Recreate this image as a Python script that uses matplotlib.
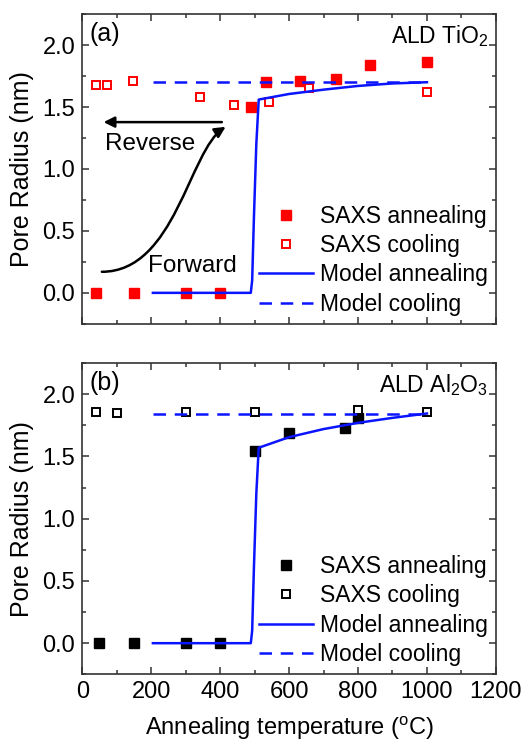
import numpy as np
import matplotlib
matplotlib.use("Agg")
import matplotlib.pyplot as plt
from matplotlib.path import Path
from matplotlib.patches import FancyArrowPatch
from matplotlib.ticker import MultipleLocator

plt.rcParams['font.family'] = ['Liberation Sans', 'DejaVu Sans']
plt.rcParams['mathtext.fontset'] = 'custom'
plt.rcParams['mathtext.rm'] = 'Liberation Sans'
plt.rcParams['mathtext.it'] = 'Liberation Sans:italic'

# (a) ALD TiO2
tio2_anneal_T = [40, 150, 300, 400, 490, 532, 632, 736, 835, 1000]
tio2_anneal_r = [0.0, 0.0, 0.0, 0.0, 1.50, 1.70, 1.71, 1.73, 1.84, 1.86]
tio2_cool_T = [40, 73, 148, 342, 441, 543, 659, 1000]
tio2_cool_r = [1.68, 1.68, 1.71, 1.58, 1.52, 1.54, 1.655, 1.62]
tio2_model_T = [205, 300, 400, 489, 493, 498, 505, 512, 600, 700, 800, 900, 1000]
tio2_model_r = [0, 0, 0, 0, 0.1, 0.6, 1.2, 1.56, 1.605, 1.64, 1.67, 1.69, 1.70]
tio2_cool_model_T = [205, 1000]
tio2_cool_model_r = [1.70, 1.70]

# (b) ALD Al2O3
al_anneal_T = [50, 150, 300, 400, 500, 600, 763, 801]
al_anneal_r = [0.0, 0.0, 0.0, 0.0, 1.54, 1.685, 1.73, 1.805]
al_cool_T = [40, 100, 300, 500, 800, 1000]
al_cool_r = [1.86, 1.85, 1.86, 1.86, 1.87, 1.86]
al_model_T = [205, 300, 400, 489, 493, 498, 505, 512, 600, 700, 800, 900, 1000]
al_model_r = [0, 0, 0, 0, 0.1, 0.6, 1.2, 1.57, 1.655, 1.72, 1.77, 1.81, 1.845]
al_cool_model_T = [205, 1000]
al_cool_model_r = [1.84, 1.84]

fig = plt.figure(figsize=(5.27, 7.41), dpi=100)
ax1 = fig.add_axes([0.156, 0.563, 0.785, 0.418])
ax2 = fig.add_axes([0.156, 0.090, 0.785, 0.420])

spine_c = '#333333'
blue = '#0a14ff'


def draw_panel(ax, aT, ar, cT, cr, mT, mr, cmT, cmr, col, tag, title):
    ax.plot(aT, ar, 's', color=col, ms=6.5, ls='none', label='SAXS annealing')
    ax.plot(cT, cr, 's', mfc='white', mec=col, mew=1.4, ms=6, ls='none',
            label='SAXS cooling')
    ax.plot(mT, mr, '-', color=blue, lw=1.8, label='Model annealing')
    ax.plot(cmT, cmr, '--', color=blue, lw=1.8, dashes=(5, 3.5),
            label='Model cooling')
    ax.set_xlim(0, 1200)
    ax.set_ylim(-0.25, 2.25)
    ax.xaxis.set_major_locator(MultipleLocator(200))
    ax.xaxis.set_minor_locator(MultipleLocator(100))
    ax.yaxis.set_major_locator(MultipleLocator(0.5))
    ax.yaxis.set_minor_locator(MultipleLocator(0.25))
    ax.yaxis.set_major_formatter(matplotlib.ticker.FormatStrFormatter('%.1f'))
    ax.tick_params(which='both', direction='in', top=True, right=True,
                   color=spine_c, labelsize=17, width=1.1)
    ax.tick_params(which='major', length=5, pad=5)
    ax.tick_params(which='minor', length=3)
    for s in ax.spines.values():
        s.set_color(spine_c)
        s.set_linewidth(1.2)
    ax.set_ylabel('Pore Radius (nm)', fontsize=18, labelpad=6)
    ax.text(0.018, 0.935, tag, transform=ax.transAxes, fontsize=18,
            ha='left', va='center')
    ax.text(0.982, 0.93, title, transform=ax.transAxes, fontsize=16.5,
            ha='right', va='center')
    ax.legend(loc='lower right', bbox_to_anchor=(1.0, 0.0), frameon=False,
              fontsize=16.5, handlelength=2.35, handletextpad=0.3,
              labelspacing=0.28, borderaxespad=0.15, borderpad=0.2)


draw_panel(ax1, tio2_anneal_T, tio2_anneal_r, tio2_cool_T, tio2_cool_r,
           tio2_model_T, tio2_model_r, tio2_cool_model_T, tio2_cool_model_r,
           'red', '(a)', 'ALD TiO$_2$')
draw_panel(ax2, al_anneal_T, al_anneal_r, al_cool_T, al_cool_r,
           al_model_T, al_model_r, al_cool_model_T, al_cool_model_r,
           'black', '(b)', 'ALD Al$_2$O$_3$')

ax1.tick_params(labelbottom=False)
ax2.set_xlabel('Annealing temperature ($^{\\mathrm{o}}$C)', fontsize=17,
               labelpad=8)

# arrows in panel (a)
ax1.annotate('', xy=(62, 1.378), xytext=(405, 1.378),
             arrowprops=dict(arrowstyle='-|>', color='black', lw=1.8,
                             mutation_scale=16, shrinkA=0, shrinkB=0))
ax1.text(65, 1.2, 'Reverse', fontsize=17.5, ha='left', va='center')
ax1.text(190, 0.22, 'Forward', fontsize=17.5, ha='left', va='center')
curve = Path([(57, 0.17), (270, 0.17), (310, 1.15), (416, 1.34)],
             [Path.MOVETO, Path.CURVE4, Path.CURVE4, Path.CURVE4])
ax1.add_patch(FancyArrowPatch(path=curve, arrowstyle='-|>', color='black',
                              lw=1.8, mutation_scale=16,
                              transform=ax1.transData))

fig.savefig('out.png', dpi=100)
